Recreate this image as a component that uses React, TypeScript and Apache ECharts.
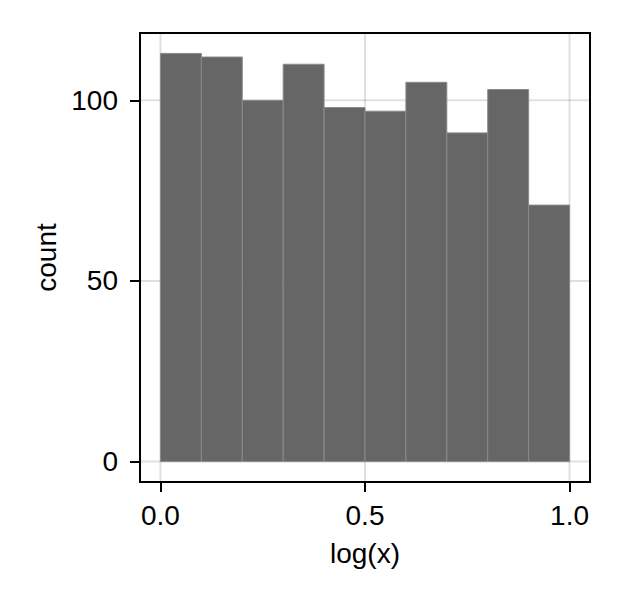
import React, { useEffect, useRef } from "react";
import * as echarts from "echarts";

const binEdges = [0.0, 0.1, 0.2, 0.3, 0.4, 0.5, 0.6, 0.7, 0.8, 0.9, 1.0];
const counts = [113, 112, 100, 110, 98, 97, 105, 91, 103, 71];
const xTicks = [0.0, 0.5, 1.0];
const yTicks = [0, 50, 100];
const xLimits = [-0.05, 1.05];
const yLimits = [-5.65, 118.65];
const xLabel = "log(x)";
const yLabel = "count";

const FONT = "'Liberation Sans', Arial, Helvetica, sans-serif";
const GRID_COLOR = "rgba(0,0,0,0.12)";

export default function App() {
  const ref = useRef<HTMLDivElement>(null);
  useEffect(() => {
    if (!ref.current) return;
    const chart = echarts.init(ref.current, undefined, { renderer: "svg" });
    const barData = counts.map((c, i) => [binEdges[i], binEdges[i + 1], c]);
    const option: any = {
      animation: false,
      backgroundColor: "#ffffff",
      textStyle: { fontFamily: FONT },
      grid: {
        left: 140,
        top: 33,
        width: 450,
        height: 449,
        show: true,
        borderColor: "#000000",
        borderWidth: 2,
        backgroundColor: "transparent",
        containLabel: false,
      },
      xAxis: {
        type: "value",
        min: xLimits[0],
        max: xLimits[1],
        name: xLabel,
        nameLocation: "middle",
        nameGap: 57,
        nameTextStyle: { fontSize: 28, color: "#000", fontFamily: FONT },
        axisLine: { show: false, onZero: false },
        axisTick: {
          show: true,
          customValues: xTicks,
          length: 10,
          lineStyle: { color: "#000", width: 2 },
        },
        axisLabel: {
          show: true,
          customValues: xTicks,
          margin: 19,
          fontSize: 28,
          color: "#000",
          fontFamily: FONT,
          formatter: (v: number) => v.toFixed(1),
        },
        splitLine: { show: false },
      },
      yAxis: {
        type: "value",
        min: yLimits[0],
        max: yLimits[1],
        name: yLabel,
        nameLocation: "middle",
        nameGap: 78,
        nameTextStyle: { fontSize: 28, color: "#000", fontFamily: FONT },
        axisLine: { show: false, onZero: false },
        axisTick: {
          show: true,
          customValues: yTicks,
          length: 10,
          lineStyle: { color: "#000", width: 2 },
        },
        axisLabel: {
          show: true,
          customValues: yTicks,
          margin: 22,
          fontSize: 28,
          color: "#000",
          fontFamily: FONT,
          formatter: (v: number) => String(Math.round(v)),
        },
        splitLine: { show: false },
      },
      series: [
        {
          type: "custom",
          z: 1,
          silent: true,
          data: xTicks.map((v) => [v, 0]),
          encode: { x: 0, y: 1 },
          renderItem: (params: any, api: any) => {
            const cs = params.coordSys;
            const p = api.coord([api.value(0), 0]);
            return {
              type: "line",
              shape: { x1: p[0], y1: cs.y, x2: p[0], y2: cs.y + cs.height },
              style: { stroke: GRID_COLOR, lineWidth: 2 },
            };
          },
        },
        {
          type: "custom",
          z: 1,
          silent: true,
          data: yTicks.map((v) => [0, v]),
          encode: { x: 0, y: 1 },
          renderItem: (params: any, api: any) => {
            const cs = params.coordSys;
            const p = api.coord([0, api.value(1)]);
            return {
              type: "line",
              shape: { x1: cs.x, y1: p[1], x2: cs.x + cs.width, y2: p[1] },
              style: { stroke: GRID_COLOR, lineWidth: 2 },
            };
          },
        },
        {
          type: "custom",
          z: 2,
          data: barData,
          encode: { x: [0, 1], y: 2 },
          renderItem: (params: any, api: any) => {
            const p0 = api.coord([api.value(0), 0]);
            const p1 = api.coord([api.value(1), api.value(2)]);
            return {
              type: "rect",
              shape: {
                x: p0[0],
                y: p1[1],
                width: p1[0] - p0[0],
                height: p0[1] - p1[1],
              },
              style: { fill: "#666666", stroke: "#8a8a8a", lineWidth: 1 },
            };
          },
        },
      ],
    };
    chart.setOption(option);
    return () => chart.dispose();
  }, []);
  return (
    <div
      ref={ref}
      style={{ position: "fixed", left: 0, top: 0, width: 622, height: 600, background: "#fff" }}
    />
  );
}
